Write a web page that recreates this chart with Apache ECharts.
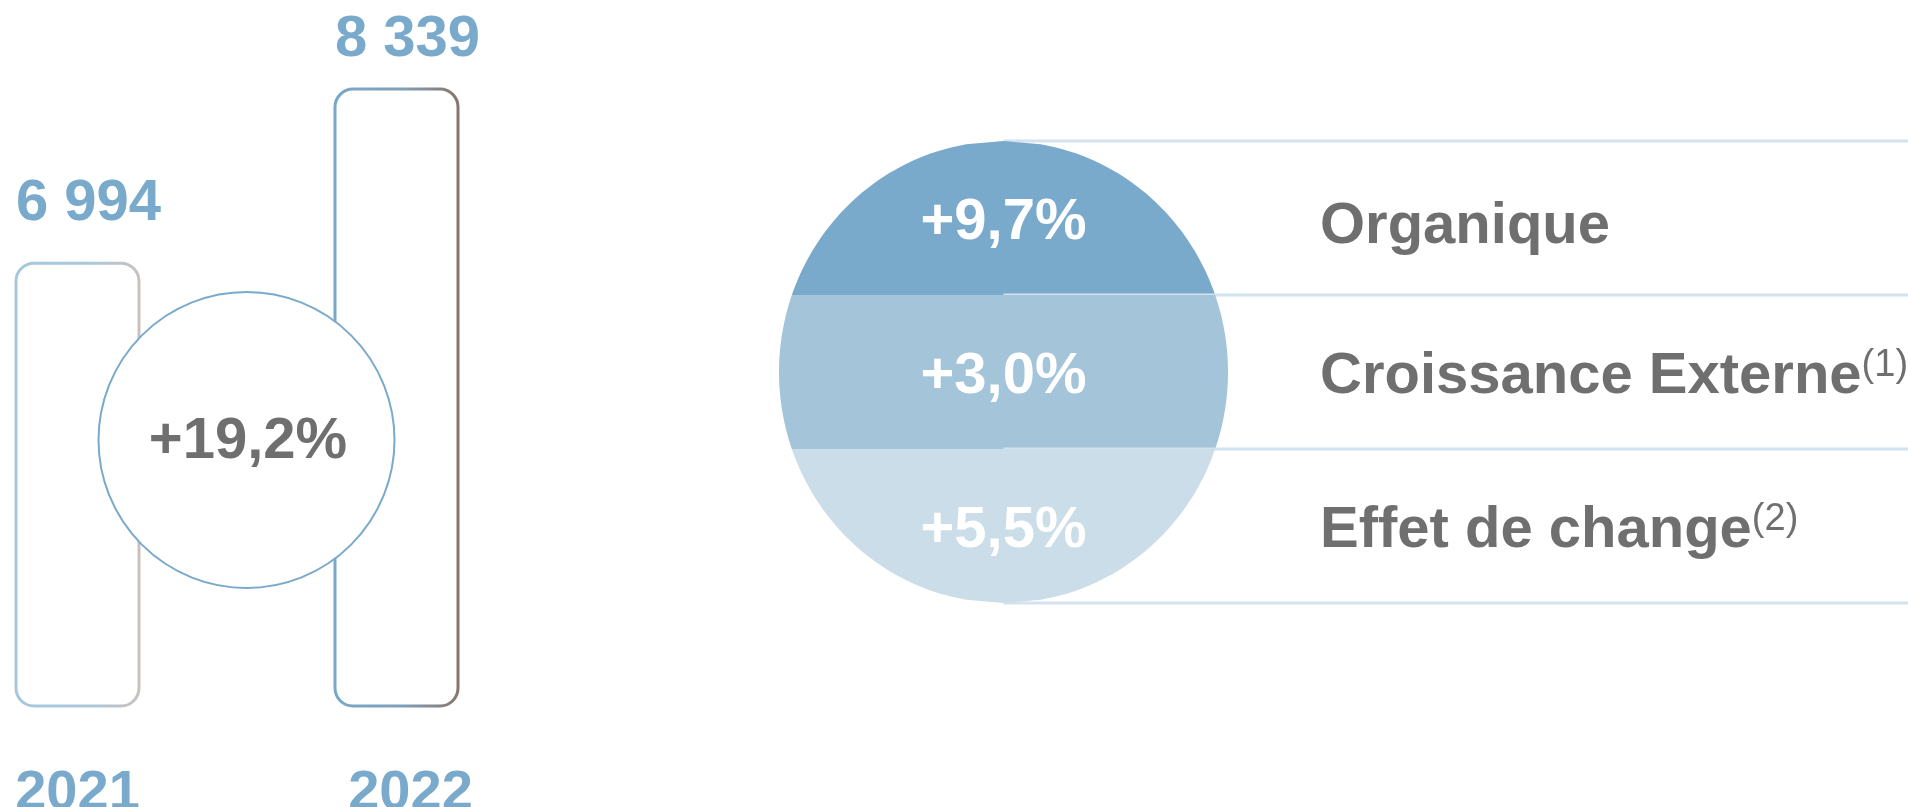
<!DOCTYPE html>
<html>
<head>
<meta charset="utf-8">
<title>Chiffre d'affaires 2021 - 2022</title>
<script src="https://cdn.jsdelivr.net/npm/echarts@6/dist/echarts.min.js"></script>
<style>
  html, body { margin: 0; padding: 0; background: #fff; }
  #chart { width: 1908px; height: 807px; }
</style>
</head>
<body>
<div id="chart"></div>
<script>
// chiffre d'affaires
const years = ['2021', '2022'];
const revenue = [6994, 8339];
const growthTotal = 19.2;

// décomposition de la croissance
const drivers = ['Organique', 'Croissance Externe', 'Effet de change'];
const driverNotes = ['', '(1)', '(2)'];
const driverGrowth = [9.7, 3.0, 5.5];

const FONT = '"Liberation Sans", Arial, sans-serif';
const GREY = '#6f6f6f';
const BLUE = '#7aaacb';
const LINE = '#d3e2ed';

const barStroke = [
  ['#a7c8dc', '#a9c8dc', '#c9c1bd'],
  ['#78a8c8', '#7f9fb8', '#8a746c']
];
const bandColors = ['#7aaacb', '#a4c4da', '#cbdde8'];

const fmtNum = v => String(v).replace(/\B(?=(\d{3})+(?!\d))/g, ' ');
const fmtPct = v => '+' + v.toFixed(1).replace('.', ',') + '%';

const chart = echarts.init(document.getElementById('chart'));

const barData = revenue.map((v, i) => ({
  value: v,
  itemStyle: {
    borderColor: new echarts.graphic.LinearGradient(0, 0, 1, 0, [
      { offset: 0, color: barStroke[i][0] },
      { offset: 0.55, color: barStroke[i][1] },
      { offset: 1, color: barStroke[i][2] }
    ])
  },
  label: { distance: i === 0 ? 29 : 19 }
}));

// bande horizontale du disque (ellipse découpée entre deux valeurs de l'axe)
function renderBand(params, api) {
  const i = api.value(0);
  const v = api.value(1);
  const top = api.coord([0, i])[1];
  const bot = api.coord([0, i + 1])[1];
  const cs = params.coordSys;
  const rx = cs.width / 2, ry = cs.height / 2;
  const cx = cs.x + rx, cy = cs.y + ry;
  const half = y => rx * Math.sqrt(Math.max(0, 1 - Math.pow((y - cy) / ry, 2)));
  const steps = 48;
  const pts = [];
  for (let k = 0; k <= steps; k++) {
    const y = top + (bot - top) * k / steps;
    pts.push([cx - half(y), y]);
  }
  for (let k = steps; k >= 0; k--) {
    const y = top + (bot - top) * k / steps;
    pts.push([cx + half(y), y]);
  }
  const W = api.getWidth();
  const mid = (top + bot) / 2 + 5;
  const children = [
    { type: 'line', shape: { x1: cx, y1: top, x2: W, y2: top }, style: { stroke: LINE, lineWidth: 3 } },
    { type: 'polygon', shape: { points: pts }, style: { fill: bandColors[i] } },
    {
      type: 'text',
      style: {
        text: fmtPct(v), x: cx, y: mid, align: 'center', verticalAlign: 'middle',
        fill: '#fff', fontFamily: FONT, fontWeight: 'bold', fontSize: 58
      }
    },
    {
      type: 'text',
      style: {
        text: '{n|' + drivers[i] + '}' + (driverNotes[i] ? '{s|' + driverNotes[i] + '}' : ''),
        x: cs.x + cs.width + 92, y: mid + (i === 0 ? 4 : 0), align: 'left', verticalAlign: 'middle',
        rich: {
          n: { fontFamily: FONT, fontWeight: 'bold', fontSize: 58, lineHeight: 60, fill: GREY, color: GREY },
          s: { fontFamily: FONT, fontSize: 38, lineHeight: 40, verticalAlign: 'top', fill: GREY, color: GREY }
        }
      }
    }
  ];
  if (i === drivers.length - 1) {
    children.unshift({ type: 'line', shape: { x1: cx, y1: bot, x2: W, y2: bot }, style: { stroke: LINE, lineWidth: 3 } });
  }
  return { type: 'group', children };
}

const option = {
  backgroundColor: '#fff',
  animation: false,
  grid: [
    { left: -82, width: 638, top: 2, bottom: 99.5, outerBoundsMode: 'none' },
    { left: 779, width: 449, top: 141, height: 462, outerBoundsMode: 'none' }
  ],
  xAxis: [
    {
      type: 'category', gridIndex: 0, data: years,
      axisLine: { show: false }, axisTick: { show: false }, splitLine: { show: false },
      axisLabel: {
        margin: 58,
        formatter: (v, idx) => idx === 1 ? '{b|' + v + '}' : '{a|' + v + '}',
        rich: {
          a: { color: BLUE, fontFamily: FONT, fontWeight: 'bold', fontSize: 56 },
          b: { color: BLUE, fontFamily: FONT, fontWeight: 'bold', fontSize: 56, padding: [0, 0, 0, 28] }
        }
      }
    },
    { type: 'value', gridIndex: 1, min: -1, max: 1, show: false }
  ],
  yAxis: [
    { type: 'value', gridIndex: 0, min: 3550, max: 9000, startValue: 3550, show: false },
    { type: 'value', gridIndex: 1, min: 0, max: drivers.length, inverse: true, show: false }
  ],
  series: [
    {
      type: 'bar',
      xAxisIndex: 0, yAxisIndex: 0,
      data: barData,
      barWidth: 126,
      silent: true,
      itemStyle: { color: 'rgba(255,255,255,0)', borderWidth: 3, borderRadius: 18 },
      label: {
        show: true, position: 'top', offset: [11, 0],
        formatter: p => fmtNum(p.value),
        color: BLUE, fontFamily: FONT, fontWeight: 'bold', fontSize: 58
      }
    },
    {
      type: 'custom',
      xAxisIndex: 1, yAxisIndex: 1,
      silent: true,
      renderItem: renderBand,
      data: driverGrowth.map((v, i) => [i, v])
    }
  ],
  graphic: [
    {
      type: 'group', z: 100,
      children: [
        { type: 'circle', z: 100, shape: { cx: 246.5, cy: 440, r: 148 }, style: { fill: '#fff', stroke: BLUE, lineWidth: 2 } },
        {
          type: 'text', z: 101,
          style: {
            text: fmtPct(growthTotal), x: 248, y: 442, align: 'center', verticalAlign: 'middle',
            fill: GREY, fontFamily: FONT, fontWeight: 'bold', fontSize: 58
          }
        }
      ]
    }
  ]
};

chart.setOption(option);
</script>
</body>
</html>
